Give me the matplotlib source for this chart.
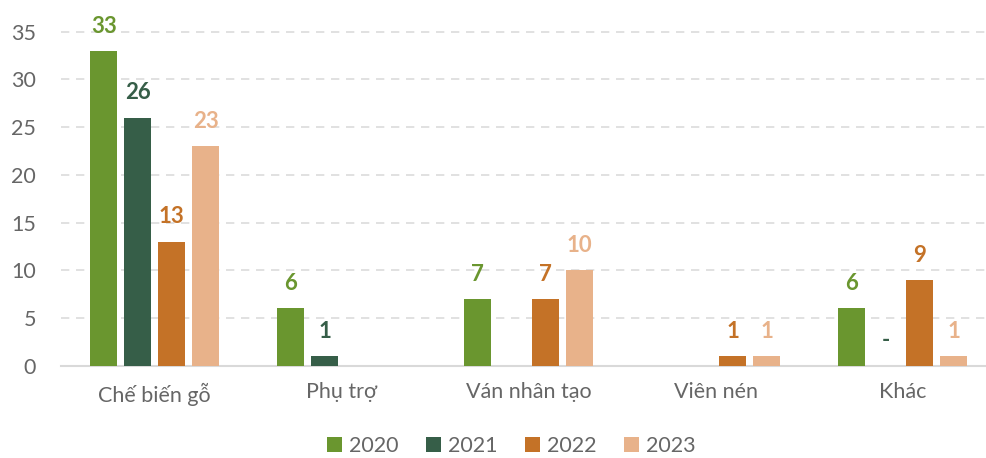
import matplotlib.pyplot as plt
import numpy as np

categories = ["Chế biến gỗ", "Phụ trợ", "Ván nhân tạo", "Viên nén", "Khác"]
years = ["2020", "2021", "2022", "2023"]
v2020 = [33, 6, 7, None, 6]
v2021 = [26, 1, None, None, 0]
v2022 = [13, None, 7, 1, 9]
v2023 = [23, None, 10, 1, 1]
series = [v2020, v2021, v2022, v2023]
colors = ["#6a962f", "#365e48", "#c47227", "#e8b28a"]

plt.rcParams['font.family'] = ['Lato', 'DejaVu Sans']

fig = plt.figure(figsize=(9.87, 4.58), dpi=100)
ax = fig.add_axes([0.062, 0.2015, 0.936, 0.7708])

x = np.arange(len(categories))
width = 0.145
step = 0.182

for i, (vals, col, yr) in enumerate(zip(series, colors, years)):
    pos = x + (i - 1.5) * step
    h = [v if v is not None else 0 for v in vals]
    ax.bar(pos, h, width=width, color=col, label=yr, zorder=3)
    for p, v in zip(pos, vals):
        if v is None:
            continue
        txt = "-" if v == 0 else str(v)
        ax.text(p, v + 1.5, txt, ha='center', va='bottom', color=col,
                fontsize=16, fontweight='bold')

ax.set_xlim(-0.5, 4.44)
ax.set_ylim(0, 37)
ax.set_yticks(range(0, 36, 5))
ax.set_xticks(x)
ax.set_xticklabels(categories)
ax.tick_params(axis='both', length=0, labelsize=15.5, colors='#666666')
ax.tick_params(axis='x', pad=12)
ax.tick_params(axis='y', pad=18)
ax.grid(axis='y', linestyle=(0, (5, 4)), color='#dcdcdc', linewidth=1.2, zorder=0)
for s in ['top', 'right', 'left']:
    ax.spines[s].set_visible(False)
ax.spines['bottom'].set_color('#d9d9d9')
ax.spines['bottom'].set_linewidth(1.5)

ax.legend(loc='lower center', bbox_to_anchor=(0.487, -0.312), ncol=4, frameon=False,
          fontsize=15.5, handlelength=0.7, handleheight=0.7, handletextpad=0.3,
          columnspacing=1.3, labelcolor='#666666')

fig.savefig('out.png', dpi=100)
